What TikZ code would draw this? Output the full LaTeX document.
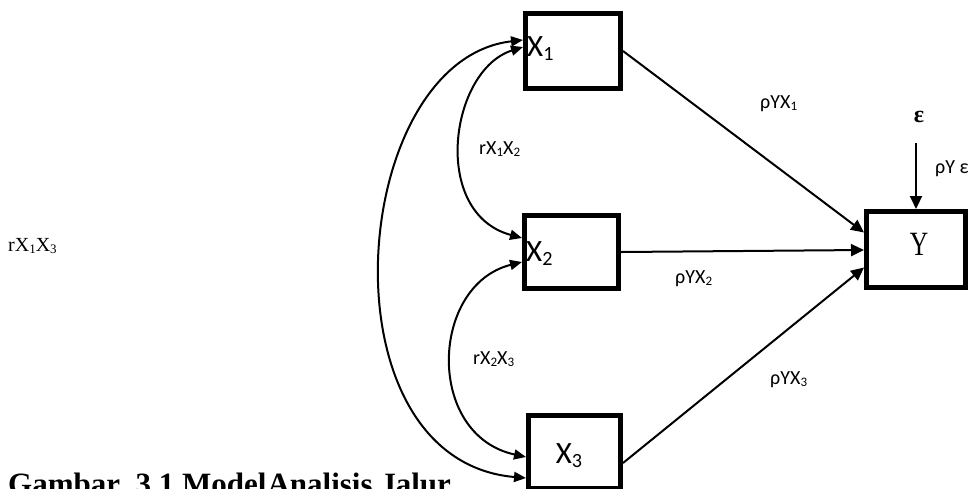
\documentclass[tikz,border=0pt]{standalone}
\usepackage{fontspec}
\usepackage{graphicx}
\setmainfont{Carlito}
\newfontfamily\serif{Liberation Serif}
\usetikzlibrary{arrows.meta}
\newcommand\lo[1]{\raisebox{-0.3ex}{\scalebox{0.65}{#1}}}
\tikzset{
  box/.style={draw, line width=5pt, inner sep=0pt},
  lab/.style={inner sep=0pt},
  big/.style={lab, font=\fontsize{31}{33}\selectfont},
  small/.style={lab, font=\fontsize{20}{22}\selectfont},
  conn/.style={line width=2pt, -{Triangle[length=13pt,width=12pt]}},
  curv/.style={line width=2pt, {Triangle[length=12pt,width=10pt]}-{Triangle[length=12pt,width=10pt]}}
}
\begin{document}
\begin{tikzpicture}[x=1pt, y=-1pt]
\useasboundingbox (0,0) rectangle (968,488);
% boxes
\node[box, minimum width=95pt, minimum height=75pt] (X1) at (573,51) {};
\node[box, minimum width=94pt, minimum height=73pt] (X2) at (571.5,252) {};
\node[box, minimum width=92pt, minimum height=73pt] (X3) at (574.5,452) {};
\node[box, minimum width=99pt, minimum height=76pt] (Y) at (916,249.5) {};
% box texts
\node[big, anchor=base west] (tX1) at (527,56) {X\lo{1}};
\node[big, anchor=base west] (tX2) at (526,261) {X\lo{2}};
\node[big, anchor=base] (tX3) at (569,463) {X\lo{3}};
\node[lab, anchor=base, font=\serif\fontsize{34}{36}\selectfont] (tY) at (919,255) {\scalebox{0.75}[1]{Y}};
% epsilon
\node[lab, anchor=base, font=\serif\bfseries\fontsize{24}{26}\selectfont] (eps) at (919,122) {ε};
\coordinate (e0) at (916,143);
\draw[conn] (e0) -- (Y.north -| e0);
\node[small, anchor=base west] (pe) at (935,173) {ρY ε};
% path arrows
\draw[conn] (X1.east) -- ([yshift=17pt]Y.west);
\draw[conn] (X2.east) -- ([yshift=-0.5pt]Y.west);
\draw[conn] ([yshift=-11pt]X3.east) -- ([yshift=-18pt]Y.west);
\node[small, anchor=base west] (p1) at (760,108) {ρYX\lo{1}};
\node[small, anchor=base west] (p2) at (675,283) {ρYX\lo{2}};
\node[small, anchor=base west] (p3) at (770,384) {ρYX\lo{3}};
% correlations
\draw[curv] ([yshift=4pt]X1.west) .. controls (450,70) and (430,213) .. ([yshift=14pt]X2.west);
\draw[curv] ([yshift=-10pt]X2.west) .. controls (430,285) and (425,435) .. ([yshift=-5pt]X3.west);
\draw[curv] ([yshift=11pt]X1.west) .. controls (348,60) and (318,460) .. ([yshift=-26pt]X3.west);
\node[small, anchor=base west] (r12) at (479,154) {rX\lo{1}X\lo{2}};
\node[small, anchor=base west] (r23) at (473,364) {rX\lo{2}X\lo{3}};
\node[lab, anchor=base west, font=\serif\fontsize{20}{22}\selectfont] (r13) at (8,251) {rX\lo{1}X\lo{3}};
% caption
\node[lab, anchor=base west, font=\serif\bfseries\fontsize{31}{33}\selectfont] (cap) at (8,494) {Gambar\ \ 3.1 Model\hspace{1pt}Analisis Jalur};
\end{tikzpicture}
\end{document}
